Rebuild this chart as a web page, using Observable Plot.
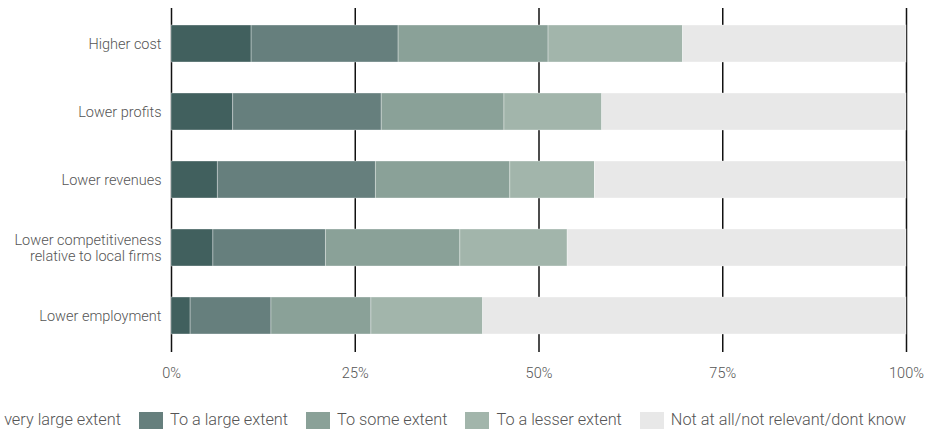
<!DOCTYPE html>
<html>
<head>
<meta charset="utf-8">
<script src="https://cdn.jsdelivr.net/npm/d3@7"></script>
<script src="https://cdn.jsdelivr.net/npm/@observablehq/plot@0.6"></script>
<style>
  html, body { margin: 0; padding: 0; background: #fff; }
  body { width: 939px; overflow: hidden; font-family: Roboto, "Open Sans", sans-serif; }
  #legend {
    display: flex; justify-content: flex-end; align-items: center;
    gap: 18px; width: 939px; box-sizing: border-box; padding-right: 33px;
    margin-top: 19px; overflow: hidden; white-space: nowrap;
    font-size: 16.3px; line-height: 20px; color: #555; font-weight: 300;
  }
  #legend .item { flex: none; display: flex; align-items: center; gap: 7px; }
  #legend .sw { width: 24px; height: 18px; margin-top: 3px; }
</style>
</head>
<body>
<div id="chart"></div>
<div id="legend"></div>
<script>
// Impact categories (one stacked bar each)
const categories = [
  "Higher cost",
  "Lower profits",
  "Lower revenues",
  "Lower competitiveness\nrelative to local firms",
  "Lower employment"
];

// Response levels, from strongest to weakest
const levels = [
  "To a very large extent",
  "To a large extent",
  "To some extent",
  "To a lesser extent",
  "Not at all/not relevant/dont know"
];

// Share of respondents (%) per category, one array per response level
const veryLarge = [10.9, 8.4, 6.3, 5.7, 2.6];
const large     = [20.0, 20.2, 21.5, 15.3, 11.0];
const some      = [20.4, 16.7, 18.3, 18.3, 13.6];
const lesser    = [18.3, 13.3, 11.5, 14.6, 15.2];
const notAtAll  = [30.4, 41.4, 42.4, 46.1, 57.6];

// Axis ticks
const xTicks = [0, 25, 50, 75, 100];

const palette = ["#41605e", "#667f7d", "#8aa198", "#a2b5ab", "#e8e8e8"];

const series = [veryLarge, large, some, lesser, notAtAll];
const rows = [];
categories.forEach((category, i) => {
  levels.forEach((level, j) => {
    rows.push({category, level, value: series[j][i]});
  });
});

const plot = Plot.plot({
  width: 939,
  height: 390,
  marginTop: 8,
  marginBottom: 38,
  marginLeft: 171,
  marginRight: 33,
  style: {fontFamily: "Roboto, 'Open Sans', sans-serif", fontSize: "14.5px", color: "#555", background: "#fff"},
  x: {domain: [0, 100], label: null},
  y: {domain: categories, label: null, paddingInner: 0.45, paddingOuter: 0.225},
  color: {domain: levels, range: palette},
  marks: [
    Plot.ruleX(xTicks, {stroke: "#111", strokeWidth: 1.5}),
    Plot.barX(rows, Plot.stackX({
      x: "value", y: "category", fill: "level",
      stroke: "#fff", strokeWidth: 0.75, strokeOpacity: 0.45
    })),
    Plot.axisX({ticks: xTicks, tickFormat: d => d + "%", tickSize: 0, tickPadding: 15, fontWeight: 300}),
    Plot.axisY({tickSize: 0, tickPadding: 10, lineHeight: 1.12, fontWeight: 300})
  ]
});
document.getElementById("chart").append(plot);

// Legend built from the same color scale
const color = plot.scale("color");
const legend = d3.select("#legend");
color.domain.forEach((d, i) => {
  const item = legend.append("div").attr("class", "item");
  item.append("div").attr("class", "sw").style("background", color.range[i]);
  item.append("span").text(d);
});
</script>
</body>
</html>
